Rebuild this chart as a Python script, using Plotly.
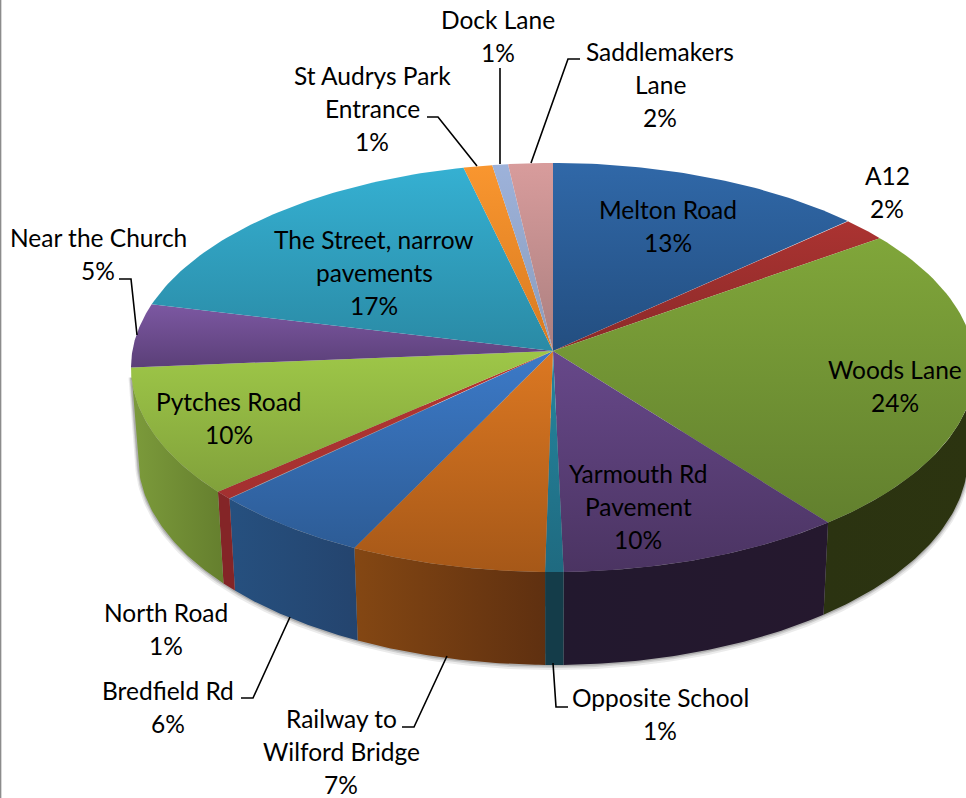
import numpy as np
import plotly.graph_objects as go

# ---- data (clockwise from 12 o'clock) ----
categories = ["Melton Road", "A12", "Woods Lane", "Yarmouth Rd Pavement", "Opposite School",
              "Railway to Wilford Bridge", "Bredfield Rd", "North Road", "Pytches Road",
              "Near the Church", "The Street, narrow pavements", "St Audrys Park Entrance",
              "Dock Lane", "Saddlemakers Lane"]
slice_shares = [12.3, 1.8, 24.6, 10.9, 0.7, 7.5, 6.1, 0.7, 10.4, 5.0, 16.6, 1.1, 0.6, 1.7]
pct_labels = ["13%", "2%", "24%", "10%", "1%", "7%", "6%", "1%", "10%", "5%", "17%", "1%", "1%", "2%"]

# ---- styles: (top lighter, top darker, side a, side b) ----
top_light = ["#3068a8", "#ab3331", "#80a63a", "#67488a", "#25869f", "#dc7822", "#3c7ac8", "#b53733",
             "#9ec748", "#7c58a2", "#35b0d2", "#f9962f", "#9db2da", "#d89c9c"]
top_dark = ["#234e80", "#8b2a29", "#62802e", "#4b3462", "#1f6a80", "#a65818", "#2d5c96", "#a33030",
            "#81a13b", "#5b3f78", "#2a8aa5", "#d87a20", "#8a9cbc", "#ab7f7f"]
side_a = ["#1c3555", "#642020", "#2b3311", "#22182e", "#143c49", "#844713", "#26507f", "#842527",
          "#7c9b3b", "#3a2a50", "#1f6070", "#a85a10", "#6a7a90", "#806060"]
side_b = ["#1c3555", "#642020", "#2c3410", "#25182e", "#143c49", "#5f3010", "#24446e", "#842527",
          "#657f2e", "#3a2a50", "#1f6070", "#a85a10", "#6a7a90", "#806060"]

# ---- geometry of the drawing, in page pixels ----
W, H = 966, 798
APEX = (553, 351)
TOP = dict(cx=553, cy=367.5, rx=422, ry=204.5)
BOT = dict(cx=553, cy=457, rx=415, ry=208)


def arc(e, f1, f2, n=60):
    f = np.linspace(f1, f2, n)
    return e["cx"] + e["rx"] * np.sin(2 * np.pi * f), e["cy"] - e["ry"] * np.cos(2 * np.pi * f)


fracs = np.cumsum([0] + slice_shares) / sum(slice_shares)
fig = go.Figure()

# soft shadow under the rim
for grow, op in [(5, 0.10), (3, 0.16), (1.5, 0.22)]:
    e = dict(BOT, rx=BOT["rx"] + grow * 0.6, ry=BOT["ry"] + grow * 0.5, cy=BOT["cy"] + grow * 0.5)
    x, y = arc(e, 0.25, 0.75, 200)
    x = np.concatenate([x, [TOP["cx"] - TOP["rx"] - grow * 0.5]])
    y = np.concatenate([y, [TOP["cy"] + 10]])
    fig.add_trace(go.Scatter(x=x, y=y, mode="lines", fill="toself", fillcolor=f"rgba(60,60,60,{op})",
                             line=dict(width=0), hoverinfo="skip", showlegend=False))

# rim
for i in range(len(slice_shares)):
    a, b = max(fracs[i], 0.25), min(fracs[i + 1], 0.75)
    if a >= b:
        continue
    xt, yt = arc(TOP, a, b)
    xb, yb = arc(BOT, b, a)
    fig.add_trace(go.Scatter(x=np.r_[xt, xb], y=np.r_[yt, yb], mode="lines", fill="toself",
                             fillgradient=dict(type="horizontal",
                                               colorscale=[[0, side_a[i]], [1, side_b[i]]]),
                             line=dict(width=0), hoverinfo="skip", showlegend=False))
# top faces
for i in range(len(slice_shares)):
    x, y = arc(TOP, fracs[i], fracs[i + 1])
    fig.add_trace(go.Scatter(x=np.r_[APEX[0], x, APEX[0]], y=np.r_[APEX[1], y, APEX[1]], mode="lines",
                             fill="toself",
                             fillgradient=dict(type="vertical",
                                               colorscale=[[0, top_dark[i]], [1, top_light[i]]]),
                             line=dict(width=0), hoverinfo="skip", name=categories[i], showlegend=False))

# leader lines
leaders = {
    "Dock Lane": [(500, 68), (500, 164)],
    "Saddlemakers Lane": [(580, 59), (568, 59), (531, 163)],
    "St Audrys Park Entrance": [(427, 117), (438, 117), (477, 166)],
    "Near the Church": [(119, 279), (131, 279), (137, 335)],
    "Bredfield Rd": [(241, 698), (253, 698), (290, 617)],
    "Railway to Wilford Bridge": [(402, 727), (414, 727), (447, 656)],
    "Opposite School": [(553, 663), (556, 707), (568, 707)],
}
for pts in leaders.values():
    fig.add_trace(go.Scatter(x=[p[0] for p in pts], y=[p[1] for p in pts], mode="lines",
                             line=dict(color="#000000", width=1.6), hoverinfo="skip", showlegend=False))

# label layout: category -> (centre x, first line y, wrapped name lines)
label_pos = {
    "Melton Road": (668, 209, ["Melton Road"]),
    "A12": (887, 175, ["A12"]),
    "Woods Lane": (895, 369, ["Woods Lane"]),
    "Yarmouth Rd Pavement": (638, 473, ["Yarmouth Rd", "Pavement"]),
    "Opposite School": (660, 697, ["Opposite School"]),
    "Railway to Wilford Bridge": (341, 718, ["Railway to", "Wilford Bridge"]),
    "Bredfield Rd": (168, 690, ["Bredfield Rd"]),
    "North Road": (166, 612, ["North Road"]),
    "Pytches Road": (229, 401, ["Pytches Road"]),
    "Near the Church": (98, 237, ["Near the Church"]),
    "The Street, narrow pavements": (374, 239, ["The Street, narrow", "pavements"]),
    "St Audrys Park Entrance": (372, 75, ["St Audrys Park", "Entrance"]),
    "Dock Lane": (498, 19, ["Dock Lane"]),
    "Saddlemakers Lane": (660, 51, ["Saddlemakers", "Lane"]),
}
LINE_PITCH = 33
for name, pct in zip(categories, pct_labels):
    cx, y0, lines = label_pos[name]
    for k, txt in enumerate(lines + [pct]):
        fig.add_annotation(x=cx, y=y0 + k * LINE_PITCH, text=txt, showarrow=False, xanchor="center",
                           yanchor="middle", font=dict(family="Lato", size=24.5, color="#000000"))

# grey frame edge on the left
fig.add_shape(type="line", x0=0.6, x1=0.6, y0=0, y1=H, line=dict(color="#8c8c8c", width=1.5))

fig.update_layout(width=W, height=H, autosize=False, margin=dict(l=0, r=0, t=0, b=0),
                  paper_bgcolor="#ffffff", plot_bgcolor="#ffffff", showlegend=False,
                  xaxis=dict(range=[0, W], visible=False, fixedrange=True),
                  yaxis=dict(range=[H, 0], visible=False, fixedrange=True))
fig.write_html("out.html", config={"displayModeBar": False},
               post_script="document.body.style.margin='0';document.body.style.overflow='hidden';")
